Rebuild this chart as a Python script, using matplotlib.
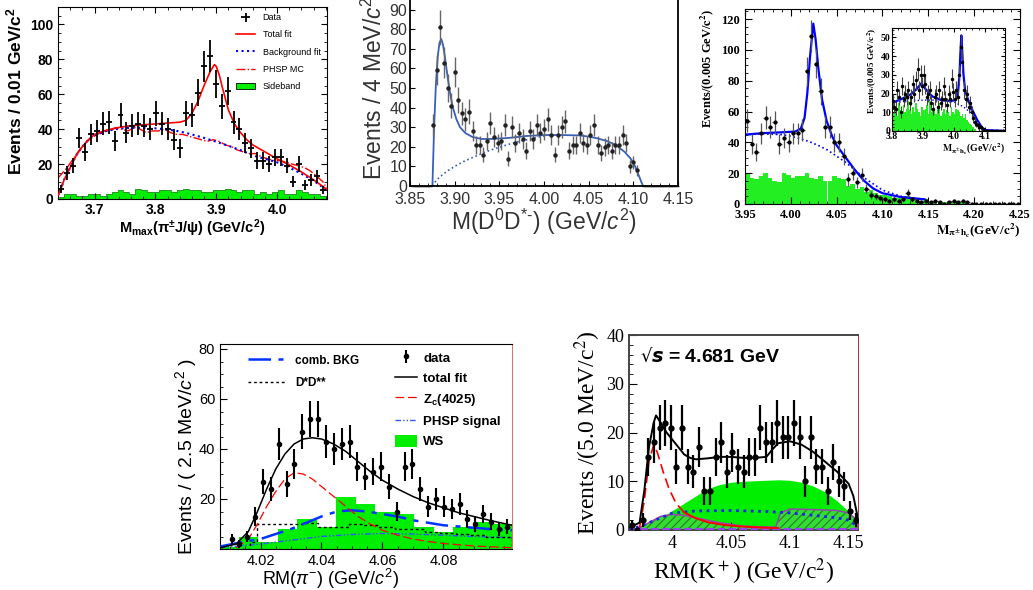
import numpy as np
import matplotlib.pyplot as plt
from matplotlib.lines import Line2D
from matplotlib.patches import Patch
from matplotlib.ticker import MultipleLocator

plt.rcParams['font.family'] = ['Liberation Sans', 'DejaVu Sans']
plt.rcParams['mathtext.fontset'] = 'custom'
plt.rcParams['mathtext.rm'] = 'Liberation Sans'
plt.rcParams['mathtext.it'] = 'Liberation Sans:italic'
plt.rcParams['mathtext.bf'] = 'Liberation Sans:bold'
plt.rcParams['hatch.linewidth'] = 0.8
plt.rcParams['hatch.color'] = '#2a7a2a'

# ---------------- panel 1: M_max(pi J/psi) ----------------
p1_counts = [5.5, 15, 19, 35, 27, 37, 39, 43, 44, 33, 48, 38, 42, 43, 42, 40, 49, 43, 40, 34, 29,
             49, 48, 61, 76, 82, 66, 53, 62, 44, 40, 32, 29, 22, 22, 20, 24, 24, 19, 10, 20, 8,
             11, 13, 5]
p1_sideband = [1, 3, 3, 2, 2, 3, 3, 2, 3, 4, 5, 4, 3, 6, 5, 4, 4, 5, 5, 4, 5, 6, 5, 5, 4, 4, 5,
               5, 6, 5, 4, 5, 5, 3, 4, 3, 4, 5, 3, 3, 5, 4, 3, 3, 2]
p1_fit_x = [3.64, 3.645, 3.65, 3.66, 3.67, 3.68, 3.69, 3.70, 3.72, 3.74, 3.76, 3.78, 3.80, 3.82,
            3.84, 3.85, 3.86, 3.87, 3.88, 3.89, 3.897, 3.90, 3.905, 3.91, 3.92, 3.93, 3.94,
            3.95, 3.96, 3.98, 4.00, 4.02, 4.04, 4.06, 4.082]
p1_fit_y = [2, 6, 11, 18, 25, 30, 34, 37, 39.5, 41, 42, 42.5, 43, 43.5, 44, 45, 49, 56, 65, 73,
            77, 76, 71, 64, 51, 43, 38, 34, 31, 27, 23, 19.5, 15.5, 11, 5.5]
p1_bkg_x = [3.64, 3.645, 3.65, 3.66, 3.67, 3.68, 3.69, 3.70, 3.72, 3.74, 3.76, 3.78, 3.80, 3.82,
            3.84, 3.86, 3.88, 3.90, 3.92, 3.94, 3.96, 3.98, 4.00, 4.02, 4.04, 4.06, 4.082]
p1_bkg_y = [2, 6, 11, 18, 25, 30, 34, 36.5, 39, 40.3, 40.8, 40.8, 40.5, 39.8, 38.7, 37, 35,
            32.8, 30.5, 28, 25, 23, 21, 18, 14.5, 10.5, 5]
p1_phsp_x = [3.64, 3.645, 3.655, 3.665, 3.675, 3.685, 3.695, 3.705, 3.715, 3.725, 3.735, 3.745,
             3.755, 3.765, 3.775, 3.785, 3.795, 3.805, 3.815, 3.825, 3.835, 3.845, 3.855,
             3.865, 3.875, 3.885, 3.895, 3.905, 3.915, 3.925, 3.935, 3.945, 3.955, 3.965,
             3.975, 3.985, 3.995, 4.005, 4.015, 4.025, 4.035, 4.045, 4.055, 4.065, 4.075, 4.082]
p1_phsp_y = [12, 14, 18, 23, 28, 32, 35, 37, 39, 39, 41, 40, 39, 41, 40, 38, 39, 39, 40, 38,
             37, 37, 36, 35, 34, 33, 34, 33, 31, 30, 28, 27, 26, 26, 24, 23, 22, 22, 21, 20,
             19, 18, 16, 13, 10, 6]

# ---------------- panel 2: M(D0 D*-) ----------------
p2_counts = [31, 59, 81, 63, 50, 41, 58, 44, 37, 34, 38, 28, 21, 21, 16, 23, 32, 25, 22, 23, 31,
             14, 30, 22, 27, 24, 18, 28, 24, 31, 27, 29, 34, 26, 16, 26, 30, 33, 18, 21, 21, 27,
             22, 21, 26, 31, 21, 17, 20, 21, 18, 21, 21, 26, 22, 10, 12, 8]
p2_fit_x = [3.8751, 3.877, 3.879, 3.881, 3.883, 3.885, 3.887, 3.889, 3.892, 3.895, 3.898,
            3.902, 3.906, 3.912, 3.92, 3.93, 3.94, 3.96, 3.98, 4.00, 4.02, 4.04, 4.05, 4.06,
            4.07, 4.08, 4.09, 4.097, 4.102, 4.106, 4.109, 4.111]
p2_fit_y = [0, 30, 52, 66, 73, 75, 72, 66, 56, 47, 40, 34, 30, 27, 25, 24, 24, 24.5, 25.5, 26,
            26, 25.8, 25.2, 24.3, 23, 21, 17.5, 14, 10, 5.5, 2, 0]
p2_bkg_x = [3.8751, 3.878, 3.882, 3.887, 3.893, 3.90, 3.91, 3.92, 3.93, 3.94, 3.95, 3.96, 3.97,
            3.98, 3.99, 4.00]
p2_bkg_y = [0, 2, 4, 6, 8, 10, 12.5, 14.5, 16.5, 18.3, 19.8, 21.2, 22.5, 23.5, 24.6, 25.5]

# ---------------- panel 3: M(pi h_c) ----------------
p3_counts = [54, 39, 34, 46, 56, 50, 53, 39, 43, 40, 46, 46, 48, 86, 109, 91, 73, 50, 50, 40,
             40, 31, 16, 20, 14, 19, 10, 6, 5, 4, 3, 2, 3, 2, 3, 7, 3, 2, 1, 2, 1, 2, 1, 0, 1,
             2, 1, 2, 1, 0, 0, 0, 0, 0, 0, 0, 0, 0, 0, 0]
p3_sideband = [20, 17, 16, 18, 20, 17, 15, 14, 20, 19, 17, 18, 18, 20, 17, 16, 18, 15, 15, 18,
               17, 16, 12, 13, 10, 11, 8, 9, 7, 6, 6, 5, 4, 4, 4, 5, 3, 3, 2, 3, 2, 2, 1, 1, 1,
               2, 1, 1, 0, 0, 0, 0, 0, 0, 0, 0, 0, 0, 0, 0]
p3_fit_x = [3.95, 3.97, 3.99, 4.005, 4.011, 4.015, 4.018, 4.021, 4.0245, 4.027, 4.030, 4.034,
            4.039, 4.045, 4.05, 4.06, 4.07, 4.08, 4.09, 4.10, 4.12, 4.146]
p3_fit_y = [45, 46, 46.5, 47, 49, 56, 72, 96, 117, 107, 88, 68, 54, 44, 38, 30, 22, 15, 10,
            7, 4.5, 3]
p3_bkg_x = [3.95, 3.97, 3.99, 4.00, 4.01, 4.02, 4.03, 4.04, 4.05, 4.06, 4.07, 4.08, 4.09, 4.10,
            4.12, 4.146]
p3_bkg_y = [45, 45.5, 45, 44, 42.5, 40.5, 38, 35, 31, 27, 22, 17, 13, 9, 5, 3]

p3in_counts = [16, 13, 12, 22, 18, 10, 24, 17, 20, 18, 22, 15, 18, 25, 20, 27, 33, 22, 30, 24,
               30, 25, 18, 20, 22, 15, 12, 18, 20, 13, 22, 15, 17, 24, 17, 14, 20, 17, 28, 21,
               17, 22, 18, 30, 45, 37, 22, 17, 20, 13, 15, 10, 7, 5, 4, 3, 2, 2, 1, 0, 0, 0,
               0, 0, 0, 0, 0, 0, 0, 0, 0, 0, 0]
p3in_sideband = [10, 14, 12, 8, 15, 11, 9, 14, 10, 12, 16, 11, 9, 13, 10, 15, 12, 10, 8, 13, 11,
                 12, 14, 9, 16, 10, 12, 11, 9, 13, 15, 8, 10, 12, 9, 11, 10, 8, 13, 10, 9, 12,
                 11, 10, 8, 9, 7, 9, 6, 5, 4, 3, 2, 1, 0, 0, 0, 0, 0, 0, 0, 0, 0, 0, 0, 0, 0,
                 0, 0, 0, 0, 0, 0]
p3in_fit_x = [3.80, 3.83, 3.86, 3.88, 3.895, 3.91, 3.93, 3.96, 3.99, 4.005, 4.013, 4.018,
              4.021, 4.024, 4.027, 4.031, 4.036, 4.045, 4.06, 4.075, 4.09, 4.10, 4.165]
p3in_fit_y = [15, 17, 19.5, 22.5, 25.5, 22, 18.5, 16.5, 16, 16.5, 20, 30, 42, 51, 42, 30, 22,
              17, 11, 6, 2, 0.5, 0]
p3in_bkg_x = [3.80, 3.85, 3.90, 3.95, 4.00, 4.03, 4.06, 4.08, 4.10]
p3in_bkg_y = [15, 16, 16.5, 16.5, 15.5, 13, 9, 4, 1]

# ---------------- panel 4: RM(pi-) ----------------
p4_counts = [4, 2, 5, 13, 27, 24, 42, 26, 34, 47, 52, 52, 43, 40, 42, 43, 33, 29, 31, 33, 25,
             15, 33, 34, 24, 17, 20, 17, 16, 18, 12, 10, 14, 11, 8, 9]
p4_ws_edges = [4.0067, 4.0129, 4.0193, 4.0257, 4.0321, 4.0385, 4.0449, 4.0513, 4.0577, 4.0641,
               4.0705, 4.0769, 4.0833, 4.0897, 4.0961, 4.1025]
p4_ws = [1, 5, 3, 8, 12, 9, 21, 18, 15, 14, 9, 7, 9, 11, 10]
p4_fit_x = [4.0067, 4.012, 4.016, 4.019, 4.022, 4.025, 4.028, 4.031, 4.034, 4.037, 4.040,
            4.044, 4.048, 4.052, 4.056, 4.060, 4.065, 4.070, 4.075, 4.080, 4.085, 4.090,
            4.095, 4.1025]
p4_fit_y = [0.5, 2, 7, 15, 24, 32, 38, 42, 44, 44.5, 44, 42, 39, 35, 31, 27.5, 24, 21, 18.5,
            16.5, 14.5, 13, 11.5, 9.5]
p4_zc_x = [4.012, 4.016, 4.019, 4.022, 4.025, 4.028, 4.031, 4.034, 4.037, 4.040, 4.044, 4.048,
           4.052, 4.056, 4.060, 4.065, 4.070, 4.075, 4.080, 4.090, 4.1025]
p4_zc_y = [0.5, 4, 10, 17, 23, 28, 30.5, 30, 28, 25, 21, 17, 13, 10, 7.5, 5.5, 4, 3, 2.2, 1.2,
           0.5]
p4_comb_x = [4.0067, 4.015, 4.02, 4.025, 4.03, 4.035, 4.04, 4.045, 4.05, 4.055, 4.06, 4.065,
             4.07, 4.075, 4.08, 4.085, 4.09, 4.095, 4.1025]
p4_comb_y = [1, 3, 4, 6, 8, 10.5, 13, 15, 15.5, 15, 14, 13, 11.5, 10.5, 9.5, 9, 8.5, 8, 7.5]
p4_dd_edges = [4.0067, 4.0165, 4.019, 4.024, 4.029, 4.034, 4.039, 4.044, 4.049, 4.054, 4.059,
               4.064, 4.069, 4.074, 4.079, 4.084, 4.089, 4.094, 4.1025]
p4_dd = [0, 3, 10, 10, 10, 10.5, 9, 9, 10, 9.5, 9, 8, 8, 7, 6.5, 6, 5.5, 5]
p4_phsp_x = [4.0067, 4.02, 4.03, 4.04, 4.05, 4.06, 4.07, 4.08, 4.09, 4.1025]
p4_phsp_y = [0.5, 2, 3.5, 5, 5.8, 6.2, 6, 5.5, 5, 4.5]

# ---------------- panel 5: RM(K+) ----------------
p5_counts = [1, 0, 2, 15, 18, 21, 22, 21, 13, 21, 13, 12, 17, 8, 8, 15, 18, 12, 16, 13, 12, 15,
             15, 21, 18, 18, 22, 19, 19, 22, 19, 10, 19, 13, 13, 8, 14, 10, 9, 4, 2]
p5_fit_x = [3.963, 3.972, 3.976, 3.980, 3.984, 3.986, 3.990, 3.995, 4.000, 4.005, 4.010, 4.015,
            4.02, 4.03, 4.04, 4.05, 4.06, 4.07, 4.08, 4.085, 4.09, 4.10, 4.11, 4.12, 4.13,
            4.14, 4.15, 4.154, 4.157, 4.158]
p5_fit_y = [0.5, 1.5, 8, 17, 22, 23.5, 22, 20, 18.5, 17, 15.5, 14.8, 14.5, 14.7, 15, 15, 14.8,
            14.8, 15, 16.5, 17.8, 18.2, 17.5, 16, 14, 12, 9.5, 7, 3.5, 1.5]
p5_red_x = [3.972, 3.976, 3.980, 3.984, 3.987, 3.992, 3.997, 4.003, 4.010]
p5_red_y = [0.5, 6, 14, 17.5, 16, 12, 8.5, 5.5, 3.6]
p5_red2_x = [4.010, 4.02, 4.03, 4.045, 4.06, 4.075, 4.09]
p5_red2_y = [3.6, 2.4, 1.6, 1.0, 0.7, 0.5, 0.4]
p5_green_x = [3.970, 3.98, 3.99, 4.00, 4.01, 4.02, 4.03, 4.04, 4.05, 4.06, 4.07, 4.08, 4.09,
              4.10, 4.11, 4.12, 4.13, 4.14, 4.15, 4.158]
p5_green_y = [0, 1.2, 2.5, 4, 5.5, 7, 8.5, 9.3, 9.8, 10, 10.1, 10.2, 10.3, 10.2, 9.8, 9, 7.8,
              6, 3.8, 1.5]
p5_blue_x = [3.963, 3.975, 3.99, 4.00, 4.02, 4.05, 4.08, 4.10, 4.12, 4.14, 4.15, 4.155, 4.158]
p5_blue_y = [0, 1, 2.5, 3.5, 3.9, 4, 3.8, 3.5, 3, 2.5, 2, 1.2, 0.5]
p5_hatch_x = [3.968, 3.98, 3.99, 4.00, 4.01, 4.02, 4.04, 4.06, 4.08, 4.088, 4.092, 4.10, 4.12,
              4.14, 4.15, 4.155, 4.158]
p5_hatch_y = [0, 1.5, 2.8, 3.2, 3, 2.5, 1.5, 0.8, 0.6, 0.6, 3.5, 4.3, 4.2, 4.0, 3.5, 2.5, 0.5]

W, H = 1033, 590
fig = plt.figure(figsize=(W / 100, H / 100), dpi=100)


def box(l, t, r, b):
    return [l / W, 1 - b / H, (r - l) / W, (b - t) / H]


def root_ticks(ax, size=4):
    ax.tick_params(which='both', direction='in', top=True, right=True)
    ax.tick_params(which='major', length=size)
    ax.tick_params(which='minor', length=size / 2)


# ---- panel 1
ax1 = fig.add_axes(box(58, 7, 327, 199))
x1 = np.linspace(3.645, 4.075, len(p1_counts))
w1 = x1[1] - x1[0]
ax1.bar(x1, p1_sideband, width=w1, color='#00ee00', edgecolor='none', zorder=1)
ax1.step(np.r_[x1 - w1 / 2, x1[-1] + w1 / 2], np.r_[p1_sideband, p1_sideband[-1]],
         where='post', color='#338833', lw=0.6, zorder=1)
ax1.plot(p1_phsp_x, p1_phsp_y, color='red', ls='-.', lw=1, zorder=2)
ax1.plot(p1_bkg_x, p1_bkg_y, color='blue', ls=':', lw=1.5, zorder=3)
ax1.plot(p1_fit_x, p1_fit_y, color='red', lw=1.2, zorder=4)
ax1.errorbar(x1, p1_counts, yerr=np.sqrt(p1_counts), xerr=w1 / 2, fmt='none', ecolor='black',
             elinewidth=1.3, zorder=5)
ax1.set_xlim(3.64, 4.082)
ax1.set_ylim(0, 110)
ax1.xaxis.set_major_locator(MultipleLocator(0.1))
ax1.xaxis.set_minor_locator(MultipleLocator(0.02))
ax1.yaxis.set_major_locator(MultipleLocator(20))
ax1.yaxis.set_minor_locator(MultipleLocator(5))
root_ticks(ax1)
ax1.tick_params(axis='x', pad=3)
for lab in ax1.get_xticklabels() + ax1.get_yticklabels():
    lab.set_fontweight('bold')
    lab.set_fontsize(10)
ax1.set_ylabel(r'Events / 0.01 GeV/$\mathbf{c^2}$', fontsize=12.5, fontweight='bold')
ax1.yaxis.set_label_coords(-0.125, 0.56)
ax1.set_xlabel(r'$\mathbf{M_{max}(\pi^{\pm}J/\psi)}$ (GeV/$\mathbf{c^2}$)', fontsize=10.5,
               fontweight='bold', labelpad=0)
h_data = ax1.errorbar([], [], yerr=[], xerr=[], fmt='none', ecolor='black', elinewidth=1.3)
handles = [h_data, Line2D([], [], color='red', lw=1.2),
           Line2D([], [], color='blue', ls=':', lw=1.5),
           Line2D([], [], color='red', ls='-.', lw=1),
           Patch(facecolor='#00ee00', edgecolor='black', lw=0.6)]
ax1.legend(handles, ['Data', 'Total fit', 'Background fit', 'PHSP MC', 'Sideband'],
           loc='upper right', frameon=False, fontsize=6.5, handlelength=2.2,
           labelspacing=0.9, borderaxespad=0.3)

# ---- panel 2
ax2 = fig.add_axes(box(410, -10, 678, 186))
x2 = 3.876 + 0.004 * np.arange(len(p2_counts))
ax2.plot(p2_bkg_x, p2_bkg_y, color='#3a5fb8', ls=':', lw=1.2)
ax2.plot(p2_fit_x, p2_fit_y, color='#3a5fb8', lw=1.3)
ax2.errorbar(x2, p2_counts, yerr=np.sqrt(p2_counts), fmt='o', ms=2.2, color='#222222',
             ecolor='#666666', elinewidth=1)
zero_x = np.r_[np.arange(3.8545, 3.874, 0.002), np.arange(4.1125, 4.149, 0.002)]
ax2.plot(zero_x, np.zeros_like(zero_x), ls='none', marker='_', ms=3, color='#444444',
         clip_on=False)
ax2.set_xlim(3.85, 4.15)
ax2.set_ylim(0, 100)
ax2.xaxis.set_minor_locator(MultipleLocator(0.01))
ax2.set_xticks([3.85, 3.90, 3.95, 4.00, 4.05, 4.10, 4.15])
ax2.set_xticklabels(['3.85', '3.90', '3.95', '4.00', '4.05', '4.10', '4.15'])
ax2.set_yticks(range(0, 100, 10))
ax2.tick_params(which='both', direction='in', top=False, right=False, labelsize=11.5,
                labelcolor='#333333', pad=2)
ax2.tick_params(axis='x', pad=4)
for s in ax2.spines.values():
    s.set_linewidth(1.3)
ax2.set_ylabel(r'Events / 4 MeV/$c^2$', fontsize=16.5, color='#333333', labelpad=2)
ax2.set_xlabel(r'M(D$^0$D$^{*\text{-}}$) (GeV/$c^2$)', fontsize=16.5, color='#333333',
               labelpad=0)

# ---- panel 3
serif = ['Liberation Serif', 'DejaVu Serif']
ax3 = fig.add_axes(box(745, 9, 1020, 204))
x3 = 3.9525 + 0.005 * np.arange(len(p3_counts))
ax3.bar(x3, p3_sideband, width=0.005, color='#22ee22', edgecolor='none')
ax3.plot(p3_bkg_x, p3_bkg_y, color='blue', ls=':', lw=1.2)
ax3.plot(p3_fit_x, p3_fit_y, color='blue', lw=1.6)
ax3.errorbar(x3, p3_counts, yerr=np.sqrt(p3_counts), xerr=0.0025, fmt='o', ms=2, color='black',
             ecolor='#555555', elinewidth=0.9)
ax3.set_xlim(3.95, 4.25)
ax3.set_ylim(0, 126.5)
ax3.xaxis.set_minor_locator(MultipleLocator(0.01))
ax3.yaxis.set_major_locator(MultipleLocator(20))
ax3.yaxis.set_minor_locator(MultipleLocator(5))
root_ticks(ax3, 5)
ax3.set_xticks([3.95, 4.00, 4.05, 4.10, 4.15, 4.20, 4.25])
ax3.set_xticklabels(['3.95', '4.00', '4.05', '4.10', '4.15', '4.20', '4.25'])
for lab in ax3.get_xticklabels() + ax3.get_yticklabels():
    lab.set_family(serif)
    lab.set_fontweight('bold')
    lab.set_fontsize(9)
ax3.set_ylabel(r'Events/(0.005 GeV/$\mathbf{c}^{\mathbf{2}}$)', family=serif, fontsize=9,
               fontweight='bold', loc='top', math_fontfamily='stix', labelpad=4)
ax3.set_xlabel(r'$\mathbf{M_{\pi^{\pm}h_c}}$(GeV/$\mathbf{c}^{\mathbf{2}}$)', family=serif,
               fontsize=9.5, fontweight='bold', loc='right', math_fontfamily='stix',
               labelpad=1)

ax3i = fig.add_axes(box(892, 28, 1005, 131))
x3i = 3.8025 + 0.005 * np.arange(len(p3in_counts))
ax3i.bar(x3i, p3in_sideband, width=0.005, color='#22ee22', edgecolor='none')
ax3i.plot(p3in_bkg_x, p3in_bkg_y, color='blue', ls=':', lw=1)
ax3i.plot(p3in_fit_x, p3in_fit_y, color='blue', lw=1.6)
ax3i.errorbar(x3i, p3in_counts, yerr=np.sqrt(p3in_counts), fmt='o', ms=1.5, color='black',
              ecolor='#444444', elinewidth=0.8)
ax3i.set_xlim(3.8, 4.165)
ax3i.set_ylim(0, 55)
ax3i.xaxis.set_major_locator(MultipleLocator(0.1))
ax3i.xaxis.set_minor_locator(MultipleLocator(0.02))
ax3i.yaxis.set_major_locator(MultipleLocator(10))
ax3i.yaxis.set_minor_locator(MultipleLocator(2))
root_ticks(ax3i, 3)
ax3i.tick_params(pad=1)
for lab in ax3i.get_xticklabels() + ax3i.get_yticklabels():
    lab.set_family(serif)
    lab.set_fontweight('bold')
    lab.set_fontsize(7)
ax3i.set_ylabel(r'Events/(0.005 GeV/$\mathbf{c}^{\mathbf{2}}$)', family=serif, fontsize=6.5,
                fontweight='bold', loc='top', math_fontfamily='stix', labelpad=1)
ax3i.set_xlabel(r'$\mathbf{M_{\pi^{\pm}h_c}}$(GeV/$\mathbf{c}^{\mathbf{2}}$)', family=serif,
                fontsize=7, fontweight='bold', loc='right', math_fontfamily='stix',
                labelpad=0)

# ---- panel 4
ax4 = fig.add_axes(box(220, 344, 512, 549))
x4 = 4.0105 + 0.00258 * np.arange(len(p4_counts))
ax4.stairs(p4_ws, p4_ws_edges, fill=True, color='#00ee00', zorder=1)
ax4.plot(p4_phsp_x, p4_phsp_y, color='#3355ff', ls=(0, (4, 1.5, 1, 1.5, 1, 1.5)), lw=1,
         zorder=2)
ax4.stairs(p4_dd, p4_dd_edges, color='black', ls=(0, (2, 2)), lw=1, zorder=3)
ax4.plot(p4_comb_x, p4_comb_y, color='#0033ff', ls=(0, (9, 3, 2, 3)), lw=1.8, zorder=3)
ax4.plot(p4_zc_x, p4_zc_y, color='red', ls=(0, (7, 3)), lw=0.9, zorder=4)
ax4.plot(p4_fit_x, p4_fit_y, color='black', lw=1.1, zorder=5)
ax4.errorbar(x4, p4_counts, yerr=np.sqrt(p4_counts), fmt='o', ms=3, color='black',
             elinewidth=1.5, zorder=6)
ax4.set_xlim(4.0067, 4.1025)
ax4.set_ylim(0, 82)
ax4.set_xticks([4.02, 4.04, 4.06, 4.08])
ax4.set_yticks([20, 40, 60, 80])
ax4.xaxis.set_minor_locator(MultipleLocator(0.005))
ax4.yaxis.set_minor_locator(MultipleLocator(5))
root_ticks(ax4, 5)
ax4.tick_params(which='both', top=False, right=False, labelsize=10.5)
ax4.spines['right'].set_color('#dd5555')
ax4.spines['right'].set_linewidth(0.6)
ax4.set_ylabel(r'Events / ( 2.5 MeV/$c^2$ )', fontsize=14)
ax4.yaxis.set_label_coords(-0.072, 0.45)
ax4.set_xlabel(r'RM($\pi^{-}$) (GeV/$c^2$)', fontsize=13)
ax4.xaxis.set_label_coords(0.38, -0.085)
h4_data = ax4.errorbar([], [], yerr=[], fmt='o', ms=3, color='black', elinewidth=1.5)
leg4a = ax4.legend([Line2D([], [], color='#0033ff', ls=(0, (9, 3, 2, 3)), lw=1.8),
                    Line2D([], [], color='black', ls=(0, (2, 2)), lw=1)],
                   ['comb. BKG', r'D*D**'], loc='upper left', bbox_to_anchor=(0.06, 1.0),
                   frameon=False, prop={'weight': 'bold', 'size': 8.5}, handlelength=3.2,
                   labelspacing=0.9)
ax4.add_artist(leg4a)
ax4.legend([h4_data, Line2D([], [], color='black', lw=1.1),
            Line2D([], [], color='red', ls=(0, (7, 3)), lw=0.9),
            Line2D([], [], color='#3355ff', ls=(0, (4, 1.5, 1, 1.5, 1, 1.5)), lw=1),
            Patch(facecolor='#00ee00')],
           ['data', 'total fit', r'$\mathbf{Z_c}$(4025)', 'PHSP signal', 'WS'],
           loc='upper left', bbox_to_anchor=(0.56, 1.025), frameon=False,
           prop={'weight': 'bold', 'size': 9.5}, handlelength=1.6, handletextpad=0.5,
           labelspacing=0.5, handleheight=1.1)

# ---- panel 5
ax5 = fig.add_axes(box(629, 335, 858, 530))
x5 = np.linspace(3.9653, 4.156, len(p5_counts))
ax5.fill_between(p5_green_x, 0, p5_green_y, color='#00ee00', lw=0, zorder=1)
ax5.fill_between(p5_hatch_x, 0, p5_hatch_y, facecolor='#33dd33', edgecolor='#2a7a2a',
                 hatch='////', lw=0.01, zorder=2)
ax5.plot(p5_hatch_x, p5_hatch_y, color='#9944aa', lw=1.1, zorder=3)
ax5.plot([3.963, 4.158], [0.15, 0.15], color='#9944ee', ls='--', lw=1.5, zorder=3)
ax5.plot(p5_blue_x, p5_blue_y, color='#2222ee', ls=':', lw=2, zorder=4)
ax5.plot(p5_red_x, p5_red_y, color='red', ls=(0, (6, 3)), lw=1.2, zorder=5)
ax5.plot(p5_red2_x, p5_red2_y, color='red', lw=1.4, zorder=5)
ax5.plot(p5_fit_x, p5_fit_y, color='black', lw=1.4, zorder=6)
ax5.errorbar(x5, p5_counts, yerr=np.sqrt(p5_counts), fmt='o', ms=3.5, color='black',
             elinewidth=1.6, zorder=7)
ax5.set_xlim(3.963, 4.158)
ax5.set_ylim(0, 40)
ax5.set_xticks([4.0, 4.05, 4.1, 4.15])
ax5.set_xticklabels(['4', '4.05', '4.1', '4.15'])
ax5.xaxis.set_minor_locator(MultipleLocator(0.01))
ax5.yaxis.set_major_locator(MultipleLocator(10))
ax5.yaxis.set_minor_locator(MultipleLocator(2))
root_ticks(ax5, 6)
ax5.tick_params(which='both', top=False, right=False)
for lab in ax5.get_xticklabels() + ax5.get_yticklabels():
    lab.set_family(serif)
    lab.set_fontsize(13)
for s in ax5.spines.values():
    s.set_color('#444444')
    s.set_linewidth(1.4)
ax5.spines['right'].set_color('#993333')
ax5.spines['right'].set_linewidth(0.7)
ax5.set_ylabel(r'Events /(5.0 MeV/c$^2$)', family=serif, fontsize=17,
               math_fontfamily='stix', labelpad=2)
ax5.set_xlabel(r'RM(K$^+$) (GeV/c$^2$)', family=serif, fontsize=17, math_fontfamily='stix',
               labelpad=3)
ax5.text(0.05, 0.935, '√', transform=ax5.transAxes, fontsize=13, va='top', ha='left',
         family=['DejaVu Sans'])
ax5.text(0.095, 0.93, r'$\boldsymbol{s}$ = 4.681 GeV', transform=ax5.transAxes, fontsize=14,
         fontweight='bold', va='top', ha='left')

fig.savefig('out.png', dpi=100)
